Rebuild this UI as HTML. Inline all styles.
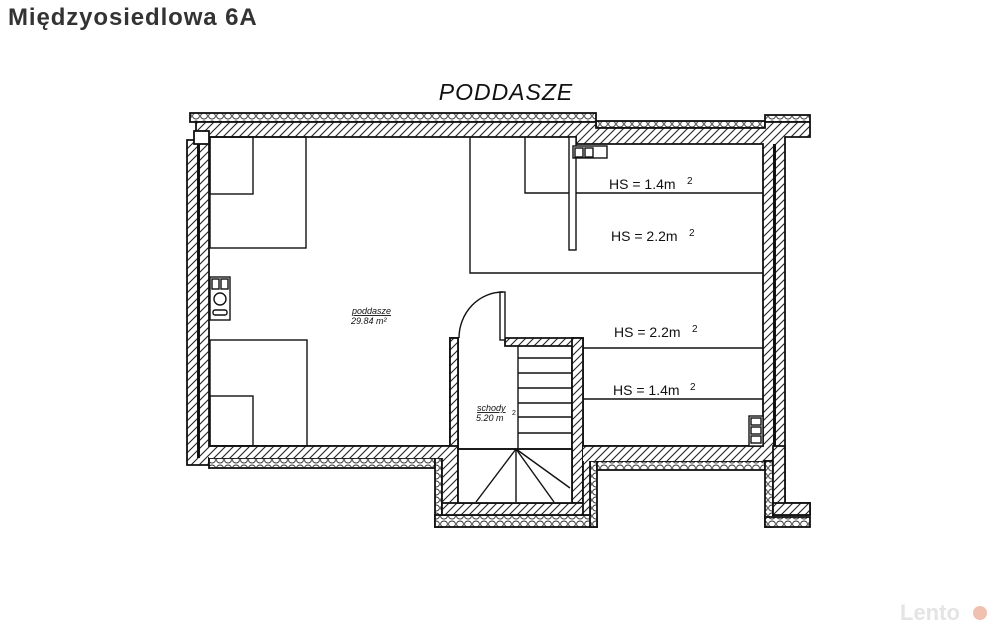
<!DOCTYPE html>
<html><head><meta charset="utf-8"><style>
html,body{margin:0;padding:0;background:#fff;}
body{width:997px;height:633px;overflow:hidden;position:relative;font-family:"Liberation Sans",sans-serif;}
.t{position:absolute;left:8px;top:4px;font-size:24px;font-weight:bold;color:#333;letter-spacing:0.9px;}
</style></head><body>
<div class="t">Międzyosiedlowa 6A</div>
<svg width="997" height="633" style="position:absolute;left:0;top:0" xmlns="http://www.w3.org/2000/svg">
<defs>
<pattern id="h" patternUnits="userSpaceOnUse" width="8" height="8">
<rect width="8" height="8" fill="#fff"/>
<path d="M-1,9 L9,-1 M-4,4 L4,-4 M4,12 L12,4" stroke="#222" stroke-width="1.1"/>
</pattern>
<pattern id="ins" patternUnits="userSpaceOnUse" width="8" height="8">
<rect width="8" height="8" fill="#fff"/>
<ellipse cx="4" cy="4" rx="3.4" ry="3" fill="none" stroke="#333" stroke-width="0.9"/>
</pattern>
</defs>
<g stroke="#111" stroke-width="1.8">
<rect x="190" y="113" width="406" height="9" fill="url(#ins)"/>
<rect x="596" y="121" width="169" height="7" fill="url(#ins)"/>
<rect x="765" y="115" width="45" height="7" fill="url(#ins)"/>
<path d="M196,122 H596 V128 H765 V122 H810 V137 H785 V503 H810 V515 H773 V461 H583 V503 H572 V346 H505 V338 H583 V446 H763 V144 H576 V137 H209 V446 H450 V338 H458 V503 H572 V515 H442 V458 H209 V465 H187 V140 H196 Z" fill="url(#h)"/>
<rect x="572" y="338" width="11" height="165" fill="url(#h)"/>
<rect x="450" y="338" width="8" height="110" fill="url(#h)"/>
<line x1="198.5" y1="140" x2="198.5" y2="458" stroke-width="3"/>
<line x1="774.5" y1="144" x2="774.5" y2="446" stroke-width="3"/>
<rect x="194" y="131" width="15" height="13" fill="#fff"/>
<rect x="209" y="458" width="226" height="10" fill="url(#ins)"/>
<rect x="435" y="458" width="7" height="69" fill="url(#ins)"/>
<rect x="435" y="515" width="162" height="12" fill="url(#ins)"/>
<rect x="590" y="461" width="7" height="66" fill="url(#ins)"/>
<rect x="597" y="461" width="168" height="9" fill="url(#ins)"/>
<rect x="765" y="461" width="8" height="66" fill="url(#ins)"/>
<rect x="765" y="517" width="45" height="10" fill="url(#ins)"/>
<rect x="442" y="446" width="16" height="69" fill="url(#h)"/>
<rect x="442" y="503" width="148" height="12" fill="url(#h)"/>
<rect x="583" y="446" width="7" height="69" fill="url(#h)"/>
<rect x="773" y="446" width="12" height="69" fill="url(#h)"/>
<rect x="773" y="503" width="37" height="12" fill="url(#h)"/>
<rect x="458" y="449" width="114" height="54" fill="#fff"/>
<rect x="583" y="446" width="180" height="15" fill="url(#h)" stroke="none"/>
<line x1="583" y1="446" x2="763" y2="446"/>
<rect x="209" y="446" width="241" height="12" fill="url(#h)" stroke="none"/>
<line x1="209" y1="446" x2="450" y2="446"/>
</g>
<g stroke="#111" stroke-width="1.4" fill="none">
<rect x="210" y="137" width="96" height="111"/>
<rect x="210" y="137" width="43" height="57"/>
<rect x="210" y="340" width="97" height="106"/>
<rect x="210" y="396" width="43" height="50"/>
<rect x="210" y="277" width="20" height="43" fill="#fff"/>
<rect x="212" y="279" width="7" height="10"/><rect x="221" y="279" width="7" height="10"/>
<circle cx="220" cy="299" r="6"/><rect x="213" y="310" width="14" height="5" rx="2"/>
<polyline points="470,137 470,273 763,273"/>
<polyline points="525,137 525,193 763,193"/>
<rect x="569" y="137" width="7" height="113" fill="#fff"/>
<rect x="573" y="146" width="34" height="12" fill="#fff"/>
<rect x="575" y="148" width="8" height="9"/><rect x="585" y="148" width="8" height="9"/>
<line x1="583" y1="348" x2="763" y2="348"/>
<line x1="583" y1="399" x2="763" y2="399"/>
<rect x="749" y="416" width="14" height="30" fill="#fff"/>
<rect x="751" y="418" width="10" height="7"/><rect x="751" y="427" width="10" height="7"/><rect x="751" y="436" width="10" height="7"/>
<rect x="500" y="292" width="5" height="48" fill="#fff"/>
<path d="M459,338 A44,46 0 0 1 503,292"/>
<line x1="518" y1="346" x2="518" y2="449"/>
<line x1="518" y1="358" x2="572" y2="358"/>
<line x1="518" y1="373" x2="572" y2="373"/>
<line x1="518" y1="388" x2="572" y2="388"/>
<line x1="518" y1="403" x2="572" y2="403"/>
<line x1="518" y1="417" x2="572" y2="417"/>
<line x1="518" y1="433" x2="572" y2="433"/>
<line x1="458" y1="449" x2="572" y2="449"/>
<line x1="516" y1="449" x2="476" y2="502"/>
<line x1="516" y1="449" x2="516" y2="502"/>
<line x1="516" y1="449" x2="554" y2="502"/>
<line x1="516" y1="449" x2="570" y2="488"/>
</g>
<g font-family="Liberation Sans, sans-serif" fill="#111">
<text x="506" y="100" font-size="23" font-style="italic" text-anchor="middle" letter-spacing="1">PODDASZE</text>
<text x="609" y="189" font-size="14">HS = 1.4m</text><text x="687" y="184" font-size="10">2</text>
<text x="611" y="241" font-size="14">HS = 2.2m</text><text x="689" y="236" font-size="10">2</text>
<text x="614" y="337" font-size="14">HS = 2.2m</text><text x="692" y="332" font-size="10">2</text>
<text x="613" y="395" font-size="14">HS = 1.4m</text><text x="690" y="390" font-size="10">2</text>
<text x="352" y="314" font-size="9" font-style="italic" text-decoration="underline">poddasze</text>
<text x="351" y="324" font-size="9" font-style="italic">29.84 m²</text>
<text x="477" y="411" font-size="9" font-style="italic" text-decoration="underline">schody</text>
<text x="476" y="421" font-size="9" font-style="italic">5.20 m</text><text x="512" y="415" font-size="7">2</text>
</g>
<text x="900" y="620" font-family="Liberation Sans, sans-serif" font-size="22" font-weight="bold" fill="#e4e4e4">Lento</text>
<circle cx="980" cy="613" r="7" fill="#f0c0b0"/>
</svg>
</body></html>
